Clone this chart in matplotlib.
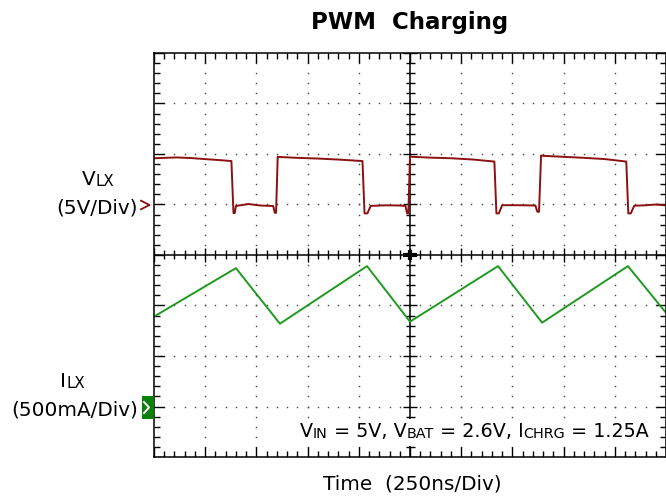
import numpy as np
import matplotlib
matplotlib.use("Agg")
import matplotlib.pyplot as plt
from matplotlib.patches import Rectangle
from matplotlib.lines import Line2D
from matplotlib.collections import LineCollection

# Scope channel settings
TIME_PER_DIV_NS = 250
VLX_VOLTS_PER_DIV = 5
ILX_AMPS_PER_DIV = 0.5
VLX_REF_DIV = 1      # ground marker of the switch-node channel
ILX_REF_DIV = -3     # zero marker of the inductor-current channel

# Switch node voltage (time in ns, volts)
vlx_t_ns = [0, 110, 180, 260, 330, 378, 388, 394, 400, 460, 520, 582, 590, 596, 604, 615,
            700, 800, 900, 980, 1018, 1028, 1042, 1058, 1130, 1200, 1228, 1236, 1242, 1250, 1262,
            1350, 1450, 1560, 1662, 1672, 1684, 1700, 1780, 1862, 1872, 1880, 1890, 1900,
            2000, 2100, 2200, 2306, 2316, 2328, 2345, 2400, 2450, 2495]
vlx_volts = [4.58, 4.66, 4.60, 4.48, 4.38, 4.30, -0.85, -0.85, -0.15, 0.05, -0.10, -0.15, -0.82, -0.82, 4.72, 4.70,
             4.62, 4.55, 4.45, 4.35, 4.30, -0.88, -0.88, -0.14, -0.08, -0.10, -0.15, -0.88, -0.88, 4.75, 4.72,
             4.64, 4.58, 4.45, 4.25, -0.88, -0.88, -0.07, -0.07, -0.10, -0.72, -0.72, 4.85, 4.82,
             4.72, 4.62, 4.50, 4.25, -0.88, -0.88, -0.12, -0.08, 0.00, -0.08]

# Inductor current (time in ns, amps)
ilx_t_ns = [0, 400, 615, 1040, 1250, 1680, 1895, 2314, 2495]
ilx_amps = [0.89, 1.37, 0.82, 1.39, 0.84, 1.39, 0.83, 1.39, 0.94]

VLX_COLOR = "#8c1010"
ILX_COLOR = "#1f9a1f"
MARK_GREEN = "#0a7f0a"

W, H = 666, 498
fig = plt.figure(figsize=(W / 100, H / 100), dpi=100)
L, R, T, B = 154, 666, 53, 457
ax = fig.add_axes([L / W, 1 - B / H, (R - L) / W, (B - T) / H])
ax.set_xlim(0, 10)
ax.set_ylim(-4, 4)
ax.set_xticks([])
ax.set_yticks([])
for s in ax.spines.values():
    s.set_linewidth(1.1)
    s.set_color("black")
    s.set_zorder(5)

px_x = 10 / (R - L)
px_y = 8 / (B - T)

# dotted graticule
steps_x = np.round(np.arange(0, 10.001, 0.2), 3)
steps_y = np.round(np.arange(-4, 4.001, 0.2), 3)
gx, gy = [], []
for xv in [1, 2, 3, 4, 6, 7, 8, 9]:
    for yv in steps_y[1:-1]:
        gx.append(xv); gy.append(yv)
for yv in [-3, -2, -1, 1, 2, 3]:
    for xv in steps_x[1:-1]:
        gx.append(xv); gy.append(yv)
ax.plot(gx, gy, ls="none", marker="s", ms=1.05, mew=0, color="#4a4a4a", zorder=1)

# center axes
ax.plot([0, 10], [0, 0], color="black", lw=1.1, zorder=2)
ax.plot([5, 5], [-4, 4], color="black", lw=1.1, zorder=2)

segs = []
for yv in steps_y:
    major = abs(yv - round(yv)) < 1e-6
    ln = 10 if major else 6
    segs.append([(0, yv), (ln * px_x, yv)])
    segs.append([(10 - ln * px_x, yv), (10, yv)])
    h = 7 if major else 4.5
    segs.append([(5 - h * px_x, yv), (5 + h * px_x, yv)])
for xv in steps_x:
    major = abs(xv - round(xv)) < 1e-6
    ln = 10 if major else 6
    segs.append([(xv, 4), (xv, 4 - ln * px_y)])
    segs.append([(xv, -4), (xv, -4 + ln * px_y)])
    h = 7 if major else 4.5
    segs.append([(xv, -h * px_y), (xv, h * px_y)])
ax.add_collection(LineCollection(segs, colors="black", linewidths=1.0, zorder=2))
ax.plot([5 - 7 * px_x, 5 + 7 * px_x], [0, 0], color="black", lw=3, zorder=2, solid_capstyle="butt")
ax.plot([5, 5], [-5 * px_y, 5 * px_y], color="black", lw=3, zorder=2, solid_capstyle="butt")

# traces
vx = np.array(vlx_t_ns) / TIME_PER_DIV_NS
vy = VLX_REF_DIV + np.array(vlx_volts) / VLX_VOLTS_PER_DIV
ax.plot(vx, vy, color=VLX_COLOR, lw=1.4, zorder=4)
ix = np.array(ilx_t_ns) / TIME_PER_DIV_NS
iy = ILX_REF_DIV + np.array(ilx_amps) / ILX_AMPS_PER_DIV
ax.plot(ix, iy, color=ILX_COLOR, lw=1.4, zorder=4)

# white backing behind the condition text
ax.add_patch(Rectangle((2.77, -3.79), 9.82 - 2.77, 3.79 - 3.24, facecolor="white",
                       edgecolor="none", zorder=3))


def draw_runs(x, y, parts, size):
    prev = None
    for text, f in parts:
        if prev is None:
            prev = ax.annotate(text, xy=(x, H - y), xycoords="figure pixels", fontsize=size * f,
                               ha="left", va="baseline", annotation_clip=False, zorder=6)
        else:
            prev = ax.annotate(text, xy=(1, 0), xycoords=prev, fontsize=size * f,
                               ha="left", va="bottom", annotation_clip=False, zorder=6)


SUB = 0.75
fig.text(410 / W, 1 - 28.5 / H, "PWM  Charging", ha="center", va="baseline",
         fontsize=16.5, fontweight="bold")
fig.text(412 / W, 1 - 489 / H, "Time  (250ns/Div)", ha="center", va="baseline", fontsize=14.4)
fig.text(138 / W, 1 - 213.3 / H, "(5V/Div)", ha="right", va="baseline", fontsize=14.4)
fig.text(138 / W, 1 - 415 / H, "(500mA/Div)", ha="right", va="baseline", fontsize=14.4)
draw_runs(82, 185, [("V", 1), ("LX", SUB)], 14.4)
draw_runs(60, 387.3, [("I", 1), ("LX", SUB)], 14.4)
draw_runs(300, 436.7, [("V", 1), ("IN", SUB), (" = 5V, V", 1), ("BAT", SUB),
                       (" = 2.6V, I", 1), ("CHRG", SUB), (" = 1.25A", 1)], 13.8)

# channel reference markers (drawn in figure inches)
def fy(ypx):
    return (H - ypx) / 100

vref_px = T + (4 - VLX_REF_DIV) / px_y
iref_px = T + (4 - ILX_REF_DIV) / px_y
fig.add_artist(Line2D([141 / 100, 149.5 / 100, 141 / 100],
                      [fy(vref_px - 3.8), fy(vref_px + 0.5), fy(vref_px + 4.8)],
                      transform=fig.dpi_scale_trans, color=VLX_COLOR, lw=1.3))
fig.add_artist(Rectangle((141.7 / 100, fy(iref_px + 12)), 12.6 / 100, 22.6 / 100,
                         transform=fig.dpi_scale_trans, facecolor=MARK_GREEN, edgecolor="none"))
fig.add_artist(Line2D([144 / 100, 149 / 100, 144 / 100],
                      [fy(iref_px - 4.5), fy(iref_px + 1), fy(iref_px + 6.5)],
                      transform=fig.dpi_scale_trans, color="white", lw=1.4))

fig.savefig("out.png", dpi=100)
